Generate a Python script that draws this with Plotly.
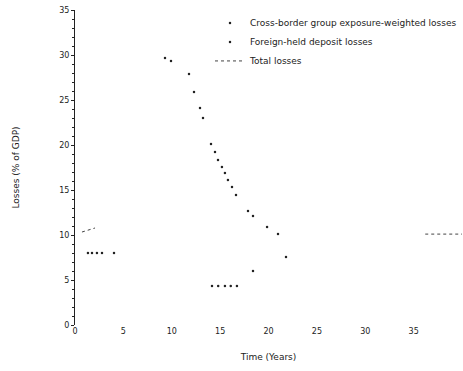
import plotly.graph_objects as go

# Data read (approximately) from the reference
s1_x = [9.30, 9.92, 11.78, 12.30, 12.92, 13.23, 14.06, 14.47, 14.78, 15.19, 15.50,
        15.81, 16.23, 16.64, 17.88, 18.40, 19.85, 20.98, 21.81]
s1_y = [29.67, 29.33, 27.89, 25.89, 24.11, 23.0, 20.11, 19.22, 18.33, 17.56, 16.89,
        16.11, 15.33, 14.44, 12.67, 12.11, 10.89, 10.11, 7.56]

s2_x = [1.34, 1.76, 2.27, 2.79, 4.03, 14.16, 14.80, 15.50, 16.10, 16.74, 18.40]
s2_y = [8.0, 8.0, 8.0, 8.0, 8.0, 4.33, 4.33, 4.33, 4.33, 4.33, 6.0]

s3_x = [0.72, 2.07, None, 36.2, 40.0]
s3_y = [10.33, 10.78, None, 10.1, 10.1]

names = ["Cross-border group exposure-weighted losses",
         "Foreign-held deposit losses",
         "Total losses"]
x_title = "Time (Years)"
y_title = "Losses (% of GDP)"

fig = go.Figure()
fig.add_trace(go.Scatter(x=s1_x, y=s1_y, mode="markers", name=names[0],
                         marker=dict(color="#222", size=2.5)))
fig.add_trace(go.Scatter(x=s2_x, y=s2_y, mode="markers", name=names[1],
                         marker=dict(color="#222", size=2.5)))
fig.add_trace(go.Scatter(x=s3_x, y=s3_y, mode="lines", name=names[2],
                         line=dict(color="#444", width=1, dash="dot")))

fig.update_layout(
    width=463, height=371,
    margin=dict(l=75, r=1, t=10, b=46),
    paper_bgcolor="white", plot_bgcolor="white",
    font=dict(family="DejaVu Sans", size=8, color="#222"),
    showlegend=True,
    legend=dict(x=1, y=1.005, xanchor="right", yanchor="top",
                bgcolor="rgba(0,0,0,0)", font=dict(size=9, color="#222"),
                itemwidth=30, tracegroupgap=0),
    xaxis=dict(range=[0, 40], dtick=5, showline=False, showgrid=False,
               zeroline=False, ticks="",
               title=dict(text=x_title, standoff=18, font=dict(size=9, color="#222"))),
    yaxis=dict(range=[0, 35], dtick=5, showline=True, linecolor="#222",
               linewidth=1, showgrid=False, zeroline=False,
               ticks="outside", ticklen=3, tickcolor="#222",
               minor=dict(ticks="outside", ticklen=2, dtick=1, tickcolor="#222"),
               title=dict(text=y_title, standoff=38, font=dict(size=9, color="#222"))),
)

fig.write_html("out.html")
